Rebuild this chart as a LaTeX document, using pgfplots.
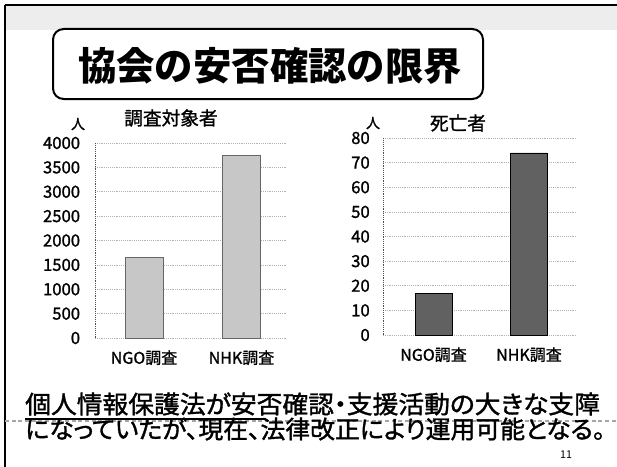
\documentclass[border=0pt]{standalone}
\usepackage{pgfplots}
\pgfplotsset{compat=1.18}
\usepackage{fontspec}
\usepackage{graphicx}
\setmainfont{Noto Sans CJK JP}
\newfontfamily\heavy[FakeBold=1.2]{Noto Sans CJK JP}
\newfontfamily\heavyp[FakeBold=1.4,RawFeature=+palt]{Noto Sans CJK JP}
\begin{document}
\begin{tikzpicture}
\begin{scope}[x=0.75pt,y=-0.75pt]
\path[use as bounding box] (0,0) rectangle (617,467);
% top texture band
\fill[gray!14] (6,6) rectangle (617,30);
\draw[line width=1.5pt] (5,5) -- (617,5);
\draw[line width=1.5pt] (5,5) -- (5,467);
% title box
\draw[line width=1.5pt, rounded corners=8pt, fill=white] (53,29) rectangle (483,99);
\node[font=\fontsize{29}{32}\selectfont\bfseries] at (270,66) {\resizebox{288pt}{\height}{協会の安否確認の限界}};
% chart titles and units
\node[font=\fontsize{14}{16}\selectfont\heavy] at (171,118) {調査対象者};
\node[font=\fontsize{14}{16}\selectfont\heavy] at (458,123) {死亡者};
\node[font=\fontsize{10.5}{12}\selectfont\heavy] at (78,124) {人};
\node[font=\fontsize{10.5}{12}\selectfont\heavy] at (373,123) {人};
% bottom text
\node[anchor=west, inner sep=0pt, font=\fontsize{18.5}{20}\selectfont\heavyp] at (25,404) {\resizebox{431pt}{\height}{個人情報保護法が安否確認・支援活動の大きな支障}};
\draw[line width=1.2pt] (25,419) -- (266,419);
\draw[gray!70, densely dashed, line width=0.8pt] (5,421) -- (617,421);
\node[anchor=west, inner sep=0pt, font=\fontsize{18.5}{20}\selectfont\heavyp] at (25,429) {\resizebox{435pt}{\height}{になっていたが、現在、法律改正により運用可能となる。}};
\node[font=\fontsize{8}{9}\selectfont\rmfamily] at (566,455) {11};
\end{scope}

\begin{axis}[
  at={(71.25pt,-253.5pt)}, anchor=south west,
  scale only axis, width=144pt, height=146.25pt,
  xmin=0.497, xmax=2.467, ymin=0, ymax=4000,
  ytick={0,500,...,4000},
  xtick={1,2}, xticklabels={NGO調査,NHK調査},
  /pgf/number format/assume math mode=true,
  /pgf/number format/1000 sep={},
  ymajorgrids, grid style={densely dotted, gray!60},
  axis lines*=left,
  x axis line style={draw=none},
  y axis line style={densely dotted, black!70},
  major tick length=0pt,
  yticklabel style={inner sep=0pt, xshift=-11pt, font=\fontsize{12.5}{13}\selectfont\heavy},
  xticklabel style={inner sep=0pt, yshift=-9pt, font=\fontsize{12}{13}\selectfont\heavy},
  clip=false,
]
\addplot[ybar, bar width=28.5pt, fill=black!22, draw=black!60] coordinates {(1,1650) (2,3750)};
\end{axis}

\begin{axis}[
  at={(287.25pt,-251.25pt)}, anchor=south west,
  scale only axis, width=145.5pt, height=147.75pt,
  xmin=0.471, xmax=2.503, ymin=0, ymax=80,
  ytick={0,10,...,80},
  xtick={1,2}, xticklabels={NGO調査,NHK調査},
  /pgf/number format/assume math mode=true,
  ymajorgrids, grid style={densely dotted, gray!60},
  axis lines*=left,
  x axis line style={draw=none},
  y axis line style={densely dotted, black!70},
  major tick length=0pt,
  yticklabel style={inner sep=0pt, xshift=-9.75pt, font=\fontsize{12.5}{13}\selectfont\heavy},
  xticklabel style={inner sep=0pt, yshift=-9pt, font=\fontsize{12}{13}\selectfont\heavy},
  clip=false,
]
\addplot[ybar, bar width=27.75pt, fill=black!62, draw=black] coordinates {(1,17) (2,74)};
\end{axis}
\end{tikzpicture}
\end{document}
